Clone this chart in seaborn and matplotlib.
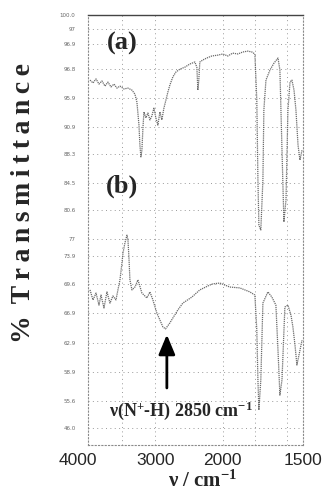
import numpy as np
import pandas as pd
import matplotlib
matplotlib.use("Agg")
import matplotlib.pyplot as plt
import matplotlib.transforms as mtransforms
import seaborn as sns

# --- spectrum (a) ---
wn_a = [3970, 3926, 3881, 3837, 3793, 3748, 3704, 3659, 3615, 3570, 3526,
        3467, 3407, 3348, 3304, 3274, 3244, 3230, 3215, 3200, 3185, 3170,
        3141, 3111, 3081, 3052, 3022, 2993, 2963, 2933, 2904, 2874, 2844, 2815, 2785,
        2741, 2696, 2637, 2563, 2489, 2415, 2385, 2370, 2356, 2341,
        2296, 2237, 2163, 2074, 2000,
        1969, 1938, 1906, 1875, 1844, 1819, 1800,
        1788, 1781, 1775, 1763, 1750, 1744, 1731, 1706, 1681, 1656,
        1644, 1631, 1619, 1606, 1594, 1581, 1569, 1556, 1544, 1531, 1519, 1506]
T_a = [12.73, 12.63, 12.77, 12.59, 12.70, 12.52, 12.66, 12.49, 12.59, 12.45, 12.52,
       12.42, 12.45, 12.38, 12.24, 11.96, 11.16, 10.46, 10.05, 10.29, 11.06, 11.62,
       11.41, 11.58, 11.34, 11.48, 11.75, 11.41, 11.16, 11.62, 11.34, 11.75, 12.03, 12.31, 12.56,
       12.84, 13.01, 13.11, 13.18, 13.29, 13.36, 13.18, 12.38, 12.73, 13.36,
       13.43, 13.50, 13.57, 13.60, 13.64,
       13.57, 13.67, 13.64, 13.71, 13.74, 13.71, 13.64,
       12.03, 9.24, 7.67, 7.50, 9.24, 11.68, 12.73, 13.08, 13.32, 13.50,
       13.08, 10.29, 7.78, 8.55, 11.68, 12.66, 12.73, 12.38, 11.68, 10.46, 9.94, 10.29]

# --- spectrum (b) ---
wn_b = [3970, 3926, 3881, 3837, 3807, 3763, 3719, 3674, 3630, 3585, 3556,
        3526, 3496, 3481, 3452, 3422, 3407, 3393, 3378, 3348, 3304, 3259,
        3200, 3126, 3081, 3037, 2978, 2933, 2889, 2850, 2785, 2741, 2667, 2593,
        2459, 2341, 2193, 2148, 2044, 1956, 1894, 1831, 1800,
        1788, 1781, 1775, 1763, 1750, 1719, 1694, 1669, 1656, 1644, 1631,
        1613, 1594, 1575, 1563, 1550, 1538, 1525, 1506]
T_b = [5.41, 5.06, 5.30, 4.88, 5.23, 4.78, 5.34, 4.95, 5.20, 5.06, 5.41,
       5.76, 6.35, 6.70, 7.05, 7.32, 7.15, 6.56, 5.76, 5.41, 5.51, 5.76,
       5.30, 5.13, 5.34, 5.06, 4.60, 4.36, 4.12, 4.05, 4.26, 4.43, 4.71, 4.95,
       5.16, 5.41, 5.58, 5.62, 5.65, 5.51, 5.48, 5.34, 5.23,
       4.01, 2.27, 1.22, 2.27, 4.95, 5.34, 5.16, 4.88, 3.31, 1.74, 2.27,
       4.81, 4.88, 4.53, 4.12, 3.49, 2.79, 3.14, 3.66]

x_ticks = [4000, 3000, 2000, 1500]
x_ticklabels = ["4000", "3000", "2000", "1500"]
y_ticks = [15.0, 14.5, 14.0, 13.1, 12.1, 11.1, 10.15, 9.15, 8.2, 7.2, 6.6,
           5.6, 4.6, 3.55, 2.55, 1.55, 0.6]
y_ticklabels = ["100.0", "97", "96.9", "96.8", "95.9", "90.9", "88.3", "84.5",
                "80.6", "77", "73.9", "69.6", "66.9", "62.9", "58.9", "55.6", "46.0"]
grid_wn = [3500, 3000, 2000, 1800, 1600]

sns.set_theme(style="white")
plt.rcParams.update({
    "font.family": ["Liberation Serif", "DejaVu Serif"],
    "mathtext.fontset": "custom",
    "mathtext.rm": "Liberation Serif:bold",
    "mathtext.it": "Liberation Serif:italic:bold",
    "mathtext.bf": "Liberation Serif:bold",
})


# IR chart paper: 4000-2000 at one scale, 2000-1500 expanded
def fwd(x):
    x = np.asarray(x, dtype=float)
    return np.where(x >= 2000, x, 2000 - (2000 - x) * 2.38)


def inv(g):
    g = np.asarray(g, dtype=float)
    return np.where(g >= 2000, g, 2000 - (2000 - g) / 2.38)


df_a = pd.DataFrame({"wn": wn_a, "T": T_a})
df_b = pd.DataFrame({"wn": wn_b, "T": T_b})

fig = plt.figure(figsize=(3.22, 4.94), dpi=100)
ax = fig.add_axes([88 / 322, 1 - 445 / 494, 215 / 322, 430 / 494])
ax.set_xscale("function", functions=(fwd, inv))
ax.set_xlim(4000, 1500)
ax.set_ylim(0, 15)

dot_grid = dict(color="#9a9a9a", lw=0.7, ls=(0, (1, 3.5)), zorder=1)
for w in grid_wn:
    ax.axvline(w, **dot_grid)
for yv in y_ticks[1:]:
    ax.axhline(yv, **dot_grid)

for d in (df_a, df_b):
    sns.lineplot(data=d, x="wn", y="T", estimator=None, sort=False, ax=ax,
                 color="#6a6a6a", linewidth=0.9, linestyle=(0, (1, 0.7)), zorder=3)

ax.text(3496, 14.0, "(a)", fontsize=19, fontweight="bold", ha="center", va="center")
ax.text(3496, 9.03, "(b)", fontsize=19, fontweight="bold", ha="center", va="center")

ax.annotate("", xy=(2830, 3.85), xytext=(2830, 1.99),
            arrowprops=dict(arrowstyle="-|>,head_length=0.6,head_width=0.25",
                            lw=2, color="black", mutation_scale=20, shrinkA=0, shrinkB=0))
ax.text(2620, 1.19, r"ν(N$^{+}$-H) 2850 cm$^{-1}$", fontsize=13, fontweight="bold",
        ha="center", va="center", zorder=5)

ax.set_xticks(x_ticks, x_ticklabels, fontfamily="Liberation Sans", fontsize=12.5)
ax.set_yticks(y_ticks, y_ticklabels, fontfamily="DejaVu Sans", fontsize=4, color="#666666")
ax.tick_params(axis="x", length=0, pad=6)
ax.tick_params(axis="y", length=0, pad=9)
lbl0 = ax.get_xticklabels()[0]
lbl0.set_transform(lbl0.get_transform() + mtransforms.ScaledTranslation(-0.1, 0, fig.dpi_scale_trans))

ax.set_xlabel(r"ν / cm$^{-1}$", fontsize=15, fontweight="bold")
ax.xaxis.set_label_coords(0.535, -0.06)
ax.set_ylabel("%\u2009 T\u2009r\u2009a\u2009n\u2009s\u2009m\u2009i\u2009t\u2009t\u2009a\u2009n\u2009c\u2009e",
              fontsize=20, fontweight="bold")
ax.yaxis.set_label_coords(-0.24, 0.563)

for side in ("left", "right", "bottom"):
    ax.spines[side].set_linestyle((0, (1, 2)))
    ax.spines[side].set_color("#8a8a8a")
    ax.spines[side].set_linewidth(0.8)
ax.spines["top"].set_color("#444444")
ax.spines["top"].set_linewidth(1.0)

fig.savefig("out.png", dpi=100)
